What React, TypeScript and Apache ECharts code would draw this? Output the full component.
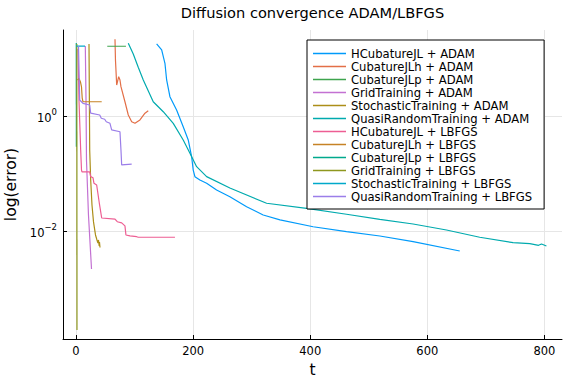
import React, { useEffect, useRef } from "react";
import * as echarts from "echarts";

// ---- data: [t, error] pairs ----
const seriesNames = [
  "HCubatureJL + ADAM",
  "CubatureJLh + ADAM",
  "CubatureJLp + ADAM",
  "GridTraining + ADAM",
  "StochasticTraining + ADAM",
  "QuasiRandomTraining + ADAM",
  "HCubatureJL + LBFGS",
  "CubatureJLh + LBFGS",
  "CubatureJLp + LBFGS",
  "GridTraining + LBFGS",
  "StochasticTraining + LBFGS",
  "QuasiRandomTraining + LBFGS",
];

const hcubatureAdam = [
  [137.7, 18.4], [146.3, 14.5], [151.9, 8.49], [154.8, 4.35], [160.4, 2.23],
  [171.8, 1.31], [183.1, 0.67], [191.7, 0.394], [197.5, 0.201], [200.2, 0.118],
  [203.1, 0.0906], [211.6, 0.0793], [223.1, 0.0695], [240.1, 0.0531], [262.8, 0.0406],
  [291.4, 0.0272], [319.7, 0.0195], [348.4, 0.016], [405.0, 0.0122], [462.0, 0.01],
  [518.9, 0.00841], [575.7, 0.0067], [655.4, 0.00461],
];
const cubatureJLhAdam = [
  [66.6, 22.2], [67.4, 9.68], [69.5, 3.56], [72.9, 4.97], [75.1, 4.35], [76.8, 3.33],
  [83.6, 1.82], [89.3, 1.07], [95.1, 0.818], [100.7, 0.767], [109.2, 0.877],
  [117.8, 1.15], [123.4, 1.27],
];
const cubatureJLpAdam = [[53.4, 16.8], [85.3, 16.8]];
const gridAdam = [
  [15.9, 16.9], [17.1, 1.95], [17.9, 0.177], [21.3, 0.0195], [26.5, 0.00224],
];
const stochasticAdam = [
  [22.2, 18.4], [23.4, 0.264], [25.1, 0.0793], [27.3, 0.0291], [29.9, 0.0148],
  [33.3, 0.00877], [35.8, 0.00718], [37.5, 0.00635], [38.4, 0.00718], [39.6, 0.00564],
  [40.1, 0.00662], [41.0, 0.00531],
];
const quasiRandomAdam = [
  [89.3, 18.9], [97.8, 12.3], [106.3, 7.23], [114.9, 4.35], [131.9, 1.82],
  [149.0, 1.22], [166.1, 0.767], [183.1, 0.394], [194.6, 0.231], [206.0, 0.135],
  [223.1, 0.0906], [262.8, 0.0575], [325.5, 0.0312], [393.8, 0.0255], [462.0, 0.0201],
  [518.9, 0.0164], [575.7, 0.0136], [632.7, 0.0107], [689.5, 0.008], [746.4, 0.00644],
  [775.0, 0.0062], [790.0, 0.0058], [795.0, 0.0061], [803.4, 0.00564],
];
const hcubatureLbfgs = [
  [3.4, 15.0], [5.1, 1.95], [8.0, 0.264], [9.4, 0.118], [10.2, 0.11], [23.4, 0.11],
  [25.1, 0.0906], [29.0, 0.0869], [30.7, 0.0695], [35.3, 0.0649], [39.8, 0.0315],
  [43.9, 0.0173], [66.6, 0.0166], [70.5, 0.0149], [78.0, 0.0142], [83.6, 0.0126],
  [85.3, 0.00877], [92.2, 0.00843], [103.6, 0.00818], [106.3, 0.008], [169.0, 0.008],
];
const cubatureJLhLbfgs = [
  [2.6, 4.35], [5.1, 4.61], [7.7, 4.01], [9.4, 3.29], [10.6, 2.11], [11.9, 1.82], [43.9, 1.82],
];
const cubatureJLpLbfgs = [[0.5, 19.1], [0.6, 0.3]];
const gridLbfgs = [[1.4, 18.4], [1.7, 0.000195]];
const stochasticLbfgs = [[0.3, 16.9], [15.4, 16.9]];
const quasiRandomLbfgs = [
  [4.3, 16.9], [6.3, 1.95], [11.9, 1.71], [23.4, 1.6], [25.1, 1.15], [40.5, 1.07],
  [43.2, 0.938], [49.0, 0.902], [51.7, 0.818], [58.0, 0.767], [60.9, 0.588],
  [75.1, 0.548], [76.8, 0.264], [78.0, 0.145], [95.1, 0.15],
];

const allSeries = [
  hcubatureAdam, cubatureJLhAdam, cubatureJLpAdam, gridAdam, stochasticAdam, quasiRandomAdam,
  hcubatureLbfgs, cubatureJLhLbfgs, cubatureJLpLbfgs, gridLbfgs, stochasticLbfgs, quasiRandomLbfgs,
];

const palette = [
  "#009AFA", "#E36F47", "#3EA44E", "#C371D2", "#AC8E18", "#00AAAE",
  "#ED5E93", "#C68225", "#00A98D", "#8E971E", "#00A9CA", "#9B7EE9",
];

const xTicks = [0, 200, 400, 600, 800];
const yTicks = [0.01, 1];

const FONT = "DejaVu Sans";

export default function App() {
  const ref = useRef<HTMLDivElement>(null);
  useEffect(() => {
    const chart = echarts.init(ref.current!, null, { renderer: "svg" });
    chart.setOption({
      animation: false,
      color: palette,
      backgroundColor: "#fff",
      title: {
        text: "Diffusion convergence ADAM/LBFGS",
        left: 307.5,
        top: 0,
        textAlign: "center",
        textVerticalAlign: "top",
        textStyle: { fontFamily: FONT, fontSize: 14.6, fontWeight: "normal", color: "#000" },
      },
      legend: {
        orient: "vertical",
        left: 307,
        top: 40,
        backgroundColor: "#fff",
        borderColor: "#000",
        borderWidth: 1,
        borderRadius: 0,
        padding: [7, 12, 6, 6],
        itemGap: 0,
        itemWidth: 33,
        itemHeight: 1.4,
        icon: "rect",
        textStyle: { fontFamily: FONT, fontSize: 11.6, color: "#000", lineHeight: 13 },
      },
      grid: { left: 63, right: 14, top: 30, bottom: 45, containLabel: false, outerBoundsMode: "none" },
      xAxis: {
        type: "value",
        min: -22.2,
        max: 830,
        name: "t",
        nameLocation: "middle",
        nameGap: 21,
        nameTextStyle: { fontFamily: FONT, fontSize: 15.5, color: "#000" },
        axisLine: { show: true, onZero: false, lineStyle: { color: "#000", width: 1 } },
        axisTick: { show: true, inside: true, length: 4, customValues: xTicks, lineStyle: { color: "#000" } },
        axisLabel: { customValues: xTicks, fontFamily: FONT, fontSize: 11.5, color: "#000", margin: 6 },
        splitLine: { show: true, lineStyle: { color: "#e6e6e6", width: 1 } },
      },
      yAxis: {
        type: "log",
        logBase: 10,
        min: 0.000136,
        max: 32.2,
        name: "log(error)",
        nameLocation: "middle",
        nameGap: 38,
        nameTextStyle: { fontFamily: FONT, fontSize: 15.5, color: "#000" },
        axisLine: { show: true, onZero: false, lineStyle: { color: "#000", width: 1 } },
        axisTick: { show: true, inside: true, length: 4, customValues: yTicks, lineStyle: { color: "#000" } },
        axisLabel: {
          customValues: yTicks,
          margin: 6,
          color: "#000",
          fontFamily: FONT,
          formatter: (v: number) => {
            const n = Math.round(Math.log10(v));
            const s = n < 0 ? "\u2212" + Math.abs(n) : String(n);
            return "{b|10}{s|" + s + "}";
          },
          rich: {
            b: { fontFamily: FONT, fontSize: 11.5, color: "#000", lineHeight: 14, verticalAlign: "bottom" },
            s: { fontFamily: FONT, fontSize: 8.5, color: "#000", lineHeight: 10, verticalAlign: "bottom", padding: [0, 0, 7, 0] },
          },
        },
        splitLine: { show: true, lineStyle: { color: "#e6e6e6", width: 1 } },
      },
      series: allSeries.map((d, i) => ({
        name: seriesNames[i],
        type: "line",
        data: d,
        symbol: "none",
        showSymbol: false,
        clip: true,
        lineStyle: { width: 1.2, color: palette[i] },
        itemStyle: { color: palette[i] },
        emphasis: { disabled: true },
      })),
    });
    return () => chart.dispose();
  }, []);
  return (
    <div
      ref={ref}
      style={{ position: "fixed", left: 0, top: 0, width: 576, height: 384 }}
    />
  );
}
